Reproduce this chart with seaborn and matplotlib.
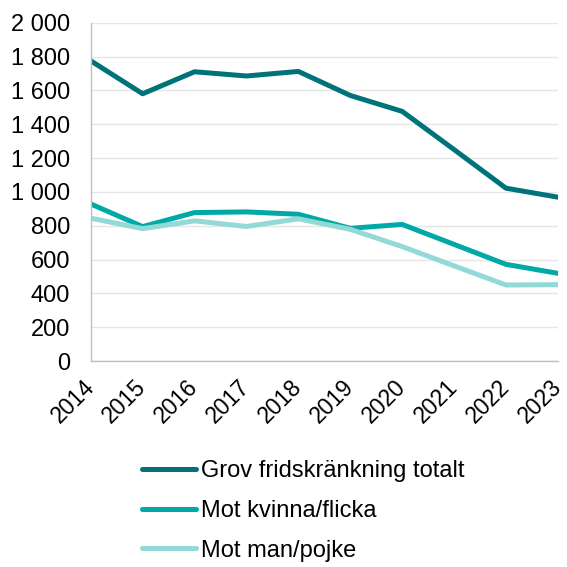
import numpy as np
import pandas as pd
import seaborn as sns
import matplotlib.pyplot as plt
from matplotlib.ticker import FuncFormatter

years = [2014, 2015, 2016, 2017, 2018, 2019, 2020, 2021, 2022, 2023]
totalt = [1775, 1580, 1710, 1685, 1712, 1570, 1476, 1250, 1022, 969]
kvinna = [929, 795, 878, 882, 868, 785, 808, 690, 572, 519]
man = [845, 783, 829, 796, 841, 779, 677, 563, 450, 452]

series_names = ["Grov fridskränkning totalt", "Mot kvinna/flicka", "Mot man/pojke"]
colors = ["#00737A", "#00A9A5", "#93D9D7"]

df = pd.concat([
    pd.DataFrame({"År": years, "Antal": vals, "Serie": name})
    for name, vals in zip(series_names, [totalt, kvinna, man])
])

sns.set_style("white")
plt.rcParams['font.family'] = ['Liberation Sans', 'DejaVu Sans']
plt.rcParams['text.color'] = 'black'

fig = plt.figure(figsize=(5.67, 5.67), dpi=100)
ax = fig.add_axes([0.160, 0.363, 0.824, 0.597])

sns.lineplot(data=df, x="År", y="Antal", hue="Serie", palette=colors,
             linewidth=3.6, ax=ax, legend=False)

ax.set_xlim(2014, 2023)
ax.set_ylim(0, 2000)
ax.set_yticks(np.arange(0, 2001, 200))
ax.yaxis.set_major_formatter(FuncFormatter(lambda v, p: f"{int(v):,}".replace(",", " ")))
ax.set_xticks(years)
ax.set_xticklabels([str(y) for y in years], rotation=45, ha="right",
                   va="center", rotation_mode="anchor")
ax.tick_params(axis="both", labelsize=16.5, labelcolor="#000000", length=6,
               width=1, direction="out", color="#BFBFBF")
ax.tick_params(axis="x", pad=10)
ax.tick_params(axis="y", labelsize=17, pad=9)
ax.set_xlabel("")
ax.set_ylabel("")
ax.grid(axis="y", color="#E6E6E6", linewidth=1)
for s in ["top", "right"]:
    ax.spines[s].set_visible(False)
for s in ["left", "bottom"]:
    ax.spines[s].set_color("#BFBFBF")
    ax.spines[s].set_linewidth(1)

handles = [plt.Line2D([0], [0], color=c, linewidth=3.6, solid_capstyle="round")
           for c in colors]
fig.legend(handles, series_names, loc="upper left", bbox_to_anchor=(0.250, 0.189),
           frameon=False, fontsize=17, handlelength=2.3, handletextpad=0.2,
           labelspacing=0.76, borderaxespad=0, borderpad=0, labelcolor="black")

fig.savefig("out.png", dpi=100)
